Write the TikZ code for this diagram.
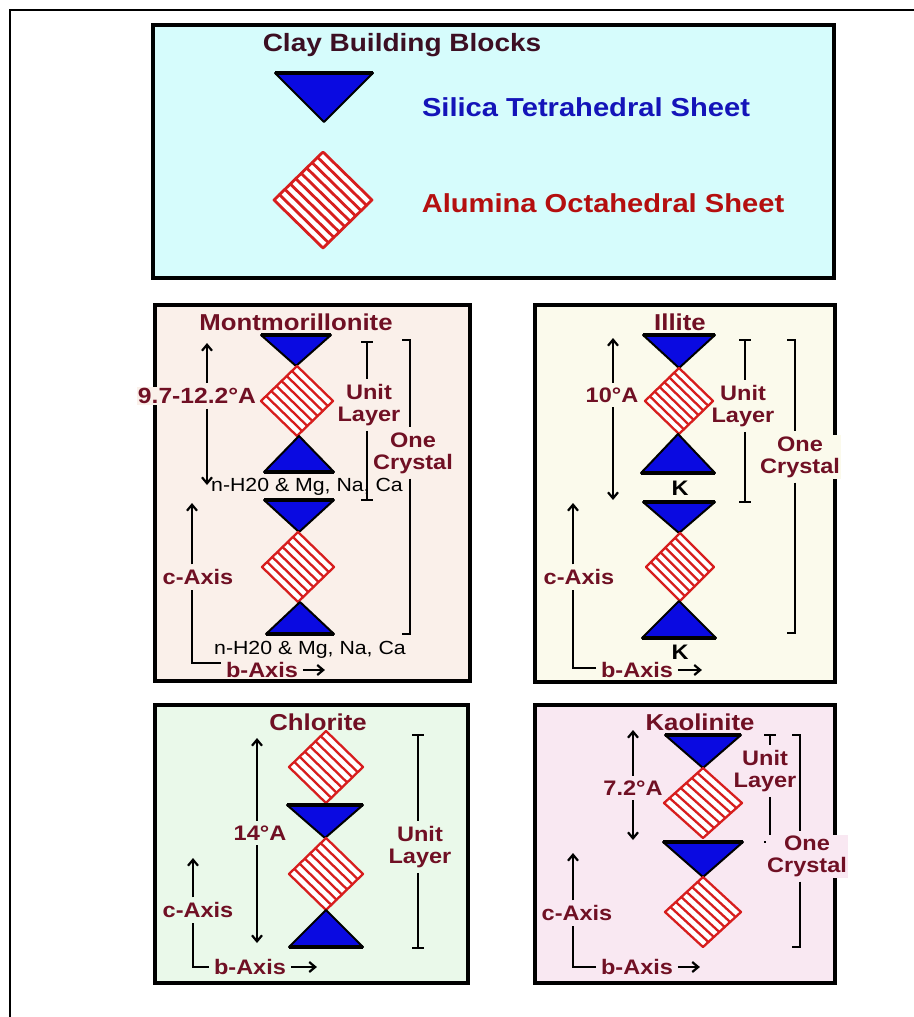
\documentclass[tikz,border=0pt]{standalone}
\usepackage{fontspec}
\setmainfont{Liberation Sans}[FakeStretch=1.12]
\usetikzlibrary{calc,arrows.meta}
\definecolor{cyanbg}{RGB}{214,252,252}
\definecolor{montbg}{RGB}{250,240,234}
\definecolor{illbg}{RGB}{251,250,236}
\definecolor{chlbg}{RGB}{234,249,234}
\definecolor{kaobg}{RGB}{249,232,242}
\definecolor{labc}{RGB}{112,16,36}
\definecolor{darkttl}{RGB}{60,15,35}
\definecolor{silblue}{RGB}{20,20,185}
\definecolor{alured}{RGB}{180,15,15}
\definecolor{tetblue}{RGB}{10,10,225}
\definecolor{octred}{RGB}{215,30,30}
\colorlet{pcol}{white}
\tikzset{
  boxs/.style={draw=black,line width=4pt},
  tet/.style={fill=tetblue,draw=black,line width=2pt,line join=round},
  tetedge/.style={draw=black,line width=3.2pt},
  hatch/.style={draw=octred},
  brk/.style={draw=black,line width=2.2pt},
  arr/.style={draw=black,line width=2.2pt,-{Straight Barb[length=6pt,width=10pt]}},
  ttl/.style={font=\fontsize{23}{25}\selectfont\bfseries,text=labc,inner sep=1pt},
  leg/.style={font=\fontsize{26}{28}\selectfont\bfseries,inner sep=1pt},
  lbl/.style={font=\fontsize{21}{22}\selectfont\bfseries,text=labc,align=center,inner sep=1pt,outer sep=4pt},
  bg/.style={fill=pcol},
  ion/.style={font=\fontsize{19}{20}\selectfont,text=black,inner sep=0pt},
  kst/.style={font=\fontsize{21}{22}\selectfont\bfseries,text=black,inner sep=0pt}
}
% downward tetrahedron: cx, top, half width, height
\newcommand{\tetd}[4]{%
  \filldraw[tet] ({#1-#3},#2) -- ({#1+#3},#2) -- (#1,{#2+#4}) -- cycle;
  \draw[tetedge] ({#1-#3},#2) -- ({#1+#3},#2);}
% upward tetrahedron: cx, base, half width, height
\newcommand{\tetu}[4]{%
  \filldraw[tet] ({#1-#3},#2) -- ({#1+#3},#2) -- (#1,{#2-#4}) -- cycle;
  \draw[tetedge] ({#1-#3},#2) -- ({#1+#3},#2);}
% hatched octahedron: name, cx, cy, half width, half height, stripes, line width
\newcommand{\octa}[7]{%
  \coordinate (#1L) at ({#2-#4},#3);
  \coordinate (#1T) at (#2,{#3-#5});
  \coordinate (#1R) at ({#2+#4},#3);
  \coordinate (#1B) at (#2,{#3+#5});
  \fill[white] (#1L) -- (#1T) -- (#1R) -- (#1B) -- cycle;
  \foreach \k in {1,...,#6}{
    \pgfmathsetmacro\hfr{\k/(#6+1)}
    \draw[hatch,line width=#7,line cap=round] ($(#1L)!\hfr!(#1T)$) -- ($(#1B)!\hfr!(#1R)$);}
  \draw[hatch,line width=#7,line join=round] (#1L) -- (#1T) -- (#1R) -- (#1B) -- cycle;}
\begin{document}
\begin{tikzpicture}[x=1pt,y=-1pt]
\useasboundingbox (0,0) rectangle (913,1017);
\fill[white] (0,0) rectangle (913,1017);
\draw[line width=2.5pt] (10,1025) -- (10,10) -- (920,10);

% ---------- legend ----------
\draw[boxs,fill=cyanbg] (153,25) rectangle (834,278);
\node[ttl,text=darkttl,font=\fontsize{25}{27}\selectfont\bfseries] (cbb) at (402,45) {Clay Building Blocks};
\tetd{324}{73}{49}{49}
\node[leg,text=silblue] (sil) at (586,107) {Silica Tetrahedral Sheet};
\octa{lg}{323}{200}{49}{48}{8}{2.8pt}
\node[leg,text=alured] (alu) at (603,203) {Alumina Octahedral Sheet};

% ---------- Montmorillonite ----------
\colorlet{pcol}{montbg}
\draw[boxs,fill=montbg] (155,305) rectangle (470,681);
\node[ttl] (mT) at (296,322) {Montmorillonite};
\tetd{296}{335}{35}{31}
\octa{mA}{297}{401}{36}{35}{6}{2.3pt}
\tetu{299}{472}{35}{36}
\node[ion] (mI1) at (307,487) {n-H20 \& Mg, Na, Ca};
\tetd{299}{500}{35}{32}
\octa{mB}{298}{567}{36}{35}{6}{2.3pt}
\tetu{300}{634}{34}{32}
\node[ion] (mI2) at (310,650) {n-H20 \& Mg, Na, Ca};
\coordinate (mC) at (192,663);
\coordinate (mCt) at (192,503);
\node[lbl] (mCa) at (198,577) {c-Axis};
\node[lbl] (mBa) at (262,670) {b-Axis};
\draw[brk] (mC -| mBa.west) -- (mC) -- (mC |- mCa.south);
\draw[arr] (mC |- mCa.north) -- (mCt);
\draw[arr] (mBa.east) -- ++(22,0);
\coordinate (m9t) at (207,343);
\coordinate (m9b) at (207,485);
\node[lbl,bg,font=\fontsize{22}{23}\selectfont\bfseries] (m9) at (197,396) {9.7-12.2°A};
\draw[arr] (m9t |- m9.north) -- (m9t);
\draw[arr] (m9t |- m9.south) -- (m9b);
\coordinate (mUt) at (367,342);
\coordinate (mUb) at (367,500);
\node[lbl] (mU) at (369,405) {Unit\\Layer};
\draw[brk] ([xshift=-6pt]mUt) -- ([xshift=6pt]mUt) (mUt) -- (mUt |- mU.north)
  (mUt |- mU.south) -- (mUb) ([xshift=-6pt]mUb) -- ([xshift=6pt]mUb);
\coordinate (mOt) at (410,340);
\coordinate (mOb) at (410,634);
\node[lbl] (mO) at (413,453) {One\\Crystal};
\draw[brk] ([xshift=-8pt]mOt) -- (mOt) -- (mOt |- mO.north)
  (mOt |- mO.south) -- (mOb) -- ([xshift=-8pt]mOb);

% ---------- Illite ----------
\colorlet{pcol}{illbg}
\draw[boxs,fill=illbg] (535,305) rectangle (835,682);
\node[ttl] (iT) at (680,322) {Illite};
\tetd{679}{335}{36}{33}
\octa{iA}{679}{401}{34}{33}{6}{2.3pt}
\tetu{678}{473}{37}{39}
\node[kst] (iK1) at (680,488) {K};
\tetd{679}{502}{36}{31}
\octa{iB}{680}{567}{34}{34}{6}{2.3pt}
\tetu{679}{638}{37}{37}
\node[kst] (iK2) at (680,652) {K};
\coordinate (iC) at (573,668);
\coordinate (iCt) at (573,503);
\node[lbl] (iCa) at (579,577) {c-Axis};
\node[lbl] (iBa) at (637,670) {b-Axis};
\draw[brk] (iC -| iBa.west) -- (iC) -- (iC |- iCa.south);
\draw[arr] (iC |- iCa.north) -- (iCt);
\draw[arr] (iBa.east) -- ++(24,0);
\coordinate (i9t) at (613,338);
\coordinate (i9b) at (613,500);
\node[lbl,bg] (i9) at (612,395) {10°A};
\draw[arr] (i9t |- i9.north) -- (i9t);
\draw[arr] (i9t |- i9.south) -- (i9b);
\coordinate (iUt) at (745,340);
\coordinate (iUb) at (745,502);
\node[lbl] (iU) at (743,406) {Unit\\Layer};
\draw[brk] ([xshift=-6pt]iUt) -- ([xshift=6pt]iUt) (iUt) -- (iUt |- iU.north)
  (iUt |- iU.south) -- (iUb) ([xshift=-6pt]iUb) -- ([xshift=6pt]iUb);
\coordinate (iOt) at (795,340);
\coordinate (iOb) at (795,633);
\node[lbl,bg] (iO) at (800,457) {One\\Crystal};
\draw[brk] ([xshift=-8pt]iOt) -- (iOt) -- (iOt |- iO.north)
  (iOt |- iO.south) -- (iOb) -- ([xshift=-8pt]iOb);

% ---------- Chlorite ----------
\colorlet{pcol}{chlbg}
\draw[boxs,fill=chlbg] (155,705) rectangle (468,983);
\node[ttl] (cT) at (318,722) {Chlorite};
\octa{cA}{326}{767}{37}{36}{6}{2.3pt}
\tetd{325}{805}{38}{33}
\octa{cB}{326}{874}{37}{36}{6}{2.3pt}
\tetu{326}{947}{37}{37}
\coordinate (c9t) at (257,738);
\coordinate (c9b) at (257,943);
\node[lbl,bg] (c9) at (260,833) {14°A};
\draw[arr] (c9t |- c9.north) -- (c9t);
\draw[arr] (c9t |- c9.south) -- (c9b);
\coordinate (cC) at (193,967);
\coordinate (cCt) at (193,858);
\node[lbl] (cCa) at (198,910) {c-Axis};
\node[lbl] (cBa) at (250,967) {b-Axis};
\draw[brk] (cC -| cBa.west) -- (cC) -- (cC |- cCa.south);
\draw[arr] (cC |- cCa.north) -- (cCt);
\draw[arr] (cBa.east) -- ++(26,0);
\coordinate (cUt) at (418,735);
\coordinate (cUb) at (418,948);
\node[lbl] (cU) at (420,847) {Unit\\Layer};
\draw[brk] ([xshift=-6pt]cUt) -- ([xshift=6pt]cUt) (cUt) -- (cUt |- cU.north)
  (cUt |- cU.south) -- (cUb) ([xshift=-6pt]cUb) -- ([xshift=6pt]cUb);

% ---------- Kaolinite ----------
\colorlet{pcol}{kaobg}
\draw[boxs,fill=kaobg] (535,705) rectangle (835,983);
\node[ttl] (kT) at (700,722) {Kaolinite};
\tetd{703}{735}{38}{33}
\octa{kA}{703}{803}{39}{35}{6}{2.3pt}
\tetd{703}{842}{40}{35}
\octa{kB}{703}{912}{38}{35}{6}{2.3pt}
\coordinate (k9t) at (633,730);
\coordinate (k9b) at (633,840);
\node[lbl,bg] (k9) at (633,788) {7.2°A};
\draw[arr] (k9t |- k9.north) -- (k9t);
\draw[arr] (k9t |- k9.south) -- (k9b);
\coordinate (kC) at (573,967);
\coordinate (kCt) at (573,853);
\node[lbl] (kCa) at (577,913) {c-Axis};
\node[lbl] (kBa) at (637,967) {b-Axis};
\draw[brk] (kC -| kBa.west) -- (kC) -- (kC |- kCa.south);
\draw[arr] (kC |- kCa.north) -- (kCt);
\draw[arr] (kBa.east) -- ++(22,0);
\coordinate (kUt) at (770,735);
\coordinate (kUb) at (770,842);
\node[lbl] (kU) at (765,771) {Unit\\Layer};
\draw[brk] ([xshift=-6pt]kUt) -- ([xshift=6pt]kUt) (kUt) -- (kUt |- kU.north)
  (kUt |- kU.south) -- (kUb) ([xshift=-6pt]kUb) -- ([xshift=6pt]kUb);
\coordinate (kOt) at (800,735);
\coordinate (kOb) at (800,947);
\node[lbl,bg] (kO) at (807,856) {One\\Crystal};
\draw[brk] ([xshift=-8pt]kOt) -- (kOt) -- (kOt |- kO.north)
  (kOt |- kO.south) -- (kOb) -- ([xshift=-8pt]kOb);
\end{tikzpicture}
\end{document}
